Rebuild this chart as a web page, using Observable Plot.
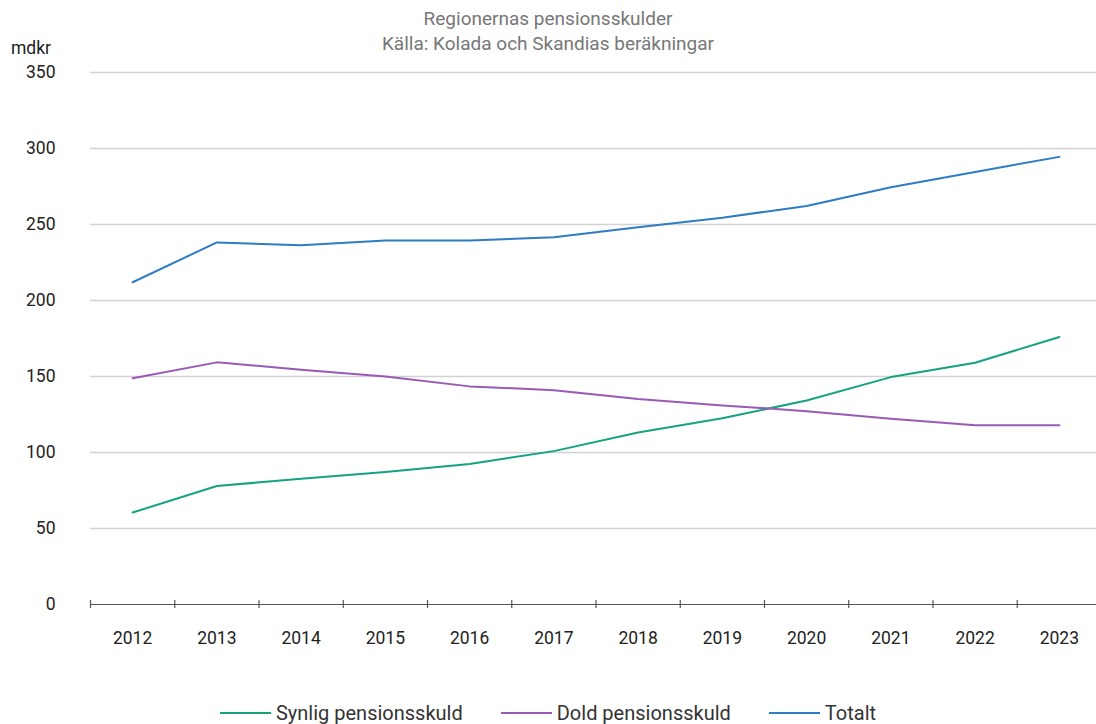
<!DOCTYPE html>
<html>
<head>
<meta charset="utf-8">
<script src="https://cdn.jsdelivr.net/npm/d3@7"></script>
<script src="https://cdn.jsdelivr.net/npm/@observablehq/plot@0.6"></script>
<style>
  html, body { margin: 0; padding: 0; background: #fff; overflow: hidden; width: 1096px; height: 724px; }
  #header { position: relative; height: 57px; font-family: Roboto, sans-serif; }
  #header .t { position: absolute; left: 0; width: 1096px; text-align: center; color: #777; font-size: 19px; line-height: 24px; }
  #header .unit { position: absolute; left: 11px; top: 37px; font-family: Roboto, sans-serif; font-size: 17.5px; line-height: 22px; color: #222; }
  #legend { display: flex; justify-content: center; gap: 38px; margin-top: 46px; font-family: Roboto, sans-serif; font-size: 20px; line-height: 26px; color: #333; padding-left: 0px; }
  #legend .item { display: flex; align-items: center; }
  #legend .sw { width: 51px; height: 2px; margin-right: 5px; }
</style>
</head>
<body>
<div id="header">
  <div class="t" style="top:7px">Regionernas pensionsskulder</div>
  <div class="t" style="top:32px">Källa: Kolada och Skandias beräkningar</div>
  <div class="unit">mdkr</div>
</div>
<div id="chart"></div>
<div id="legend"></div>
<script>
const years = [2012, 2013, 2014, 2015, 2016, 2017, 2018, 2019, 2020, 2021, 2022, 2023];
const synlig = [60.5, 78, 82.7, 87.1, 92.5, 100.9, 113.2, 122.6, 134.2, 149.6, 159, 176];
const dold = [148.8, 159.3, 154.5, 150, 143.5, 141, 135.2, 131, 127.2, 122.2, 118, 118];
const totalt = [212, 238.2, 236.4, 239.5, 239.5, 241.6, 248.2, 254.5, 262.2, 274.5, 284.6, 294.5];
const seriesNames = ["Synlig pensionsskuld", "Dold pensionsskuld", "Totalt"];
const seriesColors = ["#14a37f", "#9b59b6", "#2d7cc4"];
const yTicks = [0, 50, 100, 150, 200, 250, 300, 350];

const seriesValues = [synlig, dold, totalt];
const data = [];
seriesNames.forEach((name, i) => {
  years.forEach((yr, j) => data.push({series: name, year: yr, value: seriesValues[i][j]}));
});
const boundaries = d3.range(years[0] - 0.5, years[years.length - 1] + 1, 1);

const chart = Plot.plot({
  width: 1096,
  height: 597,
  marginTop: 15,
  marginBottom: 50,
  marginLeft: 90,
  marginRight: -5,
  style: {fontFamily: "Roboto, sans-serif", fontSize: "17.5px", color: "#222", overflow: "visible"},
  x: {domain: [years[0] - 0.5, years[years.length - 1] + 0.5], axis: null},
  y: {domain: [0, 350], axis: null},
  color: {domain: seriesNames, range: seriesColors},
  marks: [
    Plot.gridY(yTicks.filter(d => d > 0), {stroke: "#d2d2d2", strokeOpacity: 1, strokeWidth: 1.6}),
    Plot.ruleY([0], {stroke: "#555", strokeWidth: 1.2}),
    Plot.ruleX(boundaries, {y1: -2.6, y2: 2.6, stroke: "#555", strokeWidth: 1.2}),
    Plot.axisX({ticks: years, tickSize: 0, tickPadding: 27, tickFormat: d => String(d), fontSize: 17.5, fill: "#222", label: null}),
    Plot.axisY({ticks: yTicks, tickSize: 0, tickPadding: 35, fontSize: 17.5, fill: "#222", label: null}),
    Plot.line(data, {x: "year", y: "value", z: "series", stroke: "series", strokeWidth: 2})
  ]
});
document.getElementById("chart").appendChild(chart);

const legend = document.getElementById("legend");
seriesNames.forEach((name, i) => {
  const item = document.createElement("div");
  item.className = "item";
  const sw = document.createElement("span");
  sw.className = "sw";
  sw.style.background = seriesColors[i];
  const label = document.createElement("span");
  label.textContent = name;
  item.appendChild(sw);
  item.appendChild(label);
  legend.appendChild(item);
});
</script>
</body>
</html>
